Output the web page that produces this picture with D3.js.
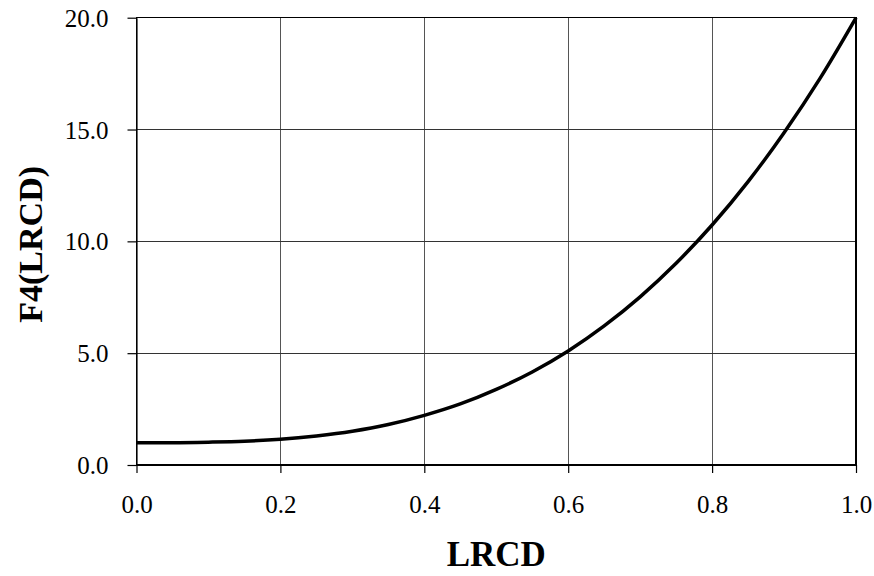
<!DOCTYPE html>
<html>
<head>
<meta charset="utf-8">
<script src="https://cdn.jsdelivr.net/npm/d3@7"></script>
<style>
  html, body { margin: 0; padding: 0; background: #fff; }
  svg { display: block; }
</style>
</head>
<body>
<svg id="chart" width="874" height="576"></svg>
<script>
// Data
const lrcd = [0.00, 0.05, 0.10, 0.15, 0.20, 0.25, 0.30, 0.35, 0.40, 0.45, 0.50,
              0.55, 0.60, 0.65, 0.70, 0.75, 0.80, 0.85, 0.90, 0.95, 1.00];
const f4 = [1.00, 1.00, 1.02, 1.06, 1.15, 1.30, 1.51, 1.81, 2.22, 2.73, 3.38,
            4.16, 5.10, 6.22, 7.52, 9.02, 10.73, 12.67, 14.86, 17.29, 20.00];
const xTicks = [0.0, 0.2, 0.4, 0.6, 0.8, 1.0];
const yTicks = [0.0, 5.0, 10.0, 15.0, 20.0];
const xTitle = "LRCD";
const yTitle = "F4(LRCD)";

(function () {
const svg = d3.select("#chart");
const mLeft = 136.5, mRight = 856, mTop = 17.7, mBottom = 465;
const x = d3.scaleLinear().domain([0, 1]).range([mLeft, mRight]);
const y = d3.scaleLinear().domain([0, 20]).range([mBottom, mTop]);
const font = "'Liberation Serif', 'Times New Roman', serif";

// gridlines
const g = svg.append("g");
g.selectAll("line.vg").data(xTicks.filter(d => d > 0 && d < 1)).join("line")
  .attr("x1", d => x(d)).attr("x2", d => x(d))
  .attr("y1", mTop).attr("y2", mBottom)
  .attr("stroke", "#555").attr("stroke-width", 1).attr("shape-rendering", "crispEdges");
g.selectAll("line.hg").data(yTicks.filter(d => d > 0 && d < 20)).join("line")
  .attr("x1", mLeft).attr("x2", mRight)
  .attr("y1", d => y(d)).attr("y2", d => y(d))
  .attr("stroke", "#333").attr("stroke-width", 1).attr("shape-rendering", "crispEdges");

// frame
svg.append("rect").attr("x", mLeft).attr("y", mTop)
  .attr("width", mRight - mLeft).attr("height", mBottom - mTop)
  .attr("fill", "none").attr("stroke", "#000").attr("stroke-width", 1.2)
  .attr("shape-rendering", "crispEdges");

// axes
const xAxis = d3.axisBottom(x).tickValues(xTicks).tickFormat(d3.format(".1f"))
  .tickSizeInner(8).tickSizeOuter(0).tickPadding(22);
const yAxis = d3.axisLeft(y).tickValues(yTicks).tickFormat(d3.format(".1f"))
  .tickSizeInner(9).tickSizeOuter(0).tickPadding(19);

const gx = svg.append("g").attr("transform", `translate(0,${mBottom})`).call(xAxis);
const gy = svg.append("g").attr("transform", `translate(${mLeft},0)`).call(yAxis);
[gx, gy].forEach(a => {
  a.select(".domain").attr("stroke", "#000").attr("stroke-width", 1.2);
  a.selectAll(".tick line").attr("stroke", "#000").attr("stroke-width", 1.2);
  a.selectAll(".tick text").attr("fill", "#000")
    .style("font-family", font).style("font-size", "25px");
});
gy.selectAll(".tick text").attr("dy", "0.34em");

// curve
const line = d3.line().x((d, i) => x(lrcd[i])).y(d => y(d)).curve(d3.curveMonotoneX);
svg.append("path").datum(f4).attr("d", line)
  .attr("fill", "none").attr("stroke", "#000").attr("stroke-width", 3.5)
  .attr("stroke-linejoin", "round");

// titles
svg.append("text").attr("x", (mLeft + mRight) / 2).attr("y", 566)
  .attr("text-anchor", "middle")
  .style("font-family", font).style("font-size", "35px").style("font-weight", "bold")
  .text(xTitle);
svg.append("text")
  .attr("transform", `translate(42,${(mTop + mBottom) / 2 + 3}) rotate(-90)`)
  .attr("text-anchor", "middle")
  .style("font-family", font).style("font-size", "34px").style("font-weight", "bold")
  .text(yTitle);
})();
</script>
</body>
</html>
